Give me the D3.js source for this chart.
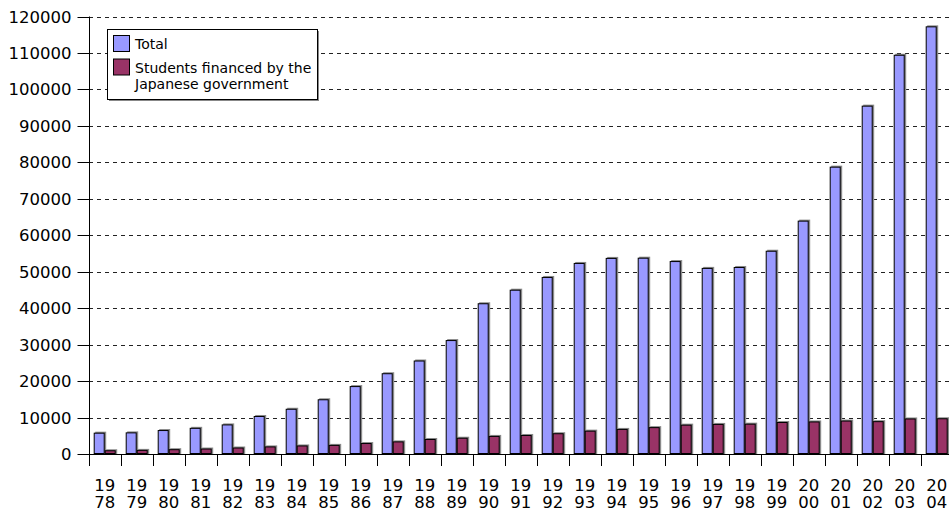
<!DOCTYPE html>
<html>
<head>
<meta charset="utf-8">
<script src="https://cdn.jsdelivr.net/npm/d3@7"></script>
<style>
  html, body { margin: 0; padding: 0; background: #fff; }
  svg { display: block; font-family: "DejaVu Sans", Verdana, sans-serif; }
</style>
</head>
<body>
<svg id="chart" width="949" height="515"></svg>
<script>
// Foreign students in Japan, 1978–2004
const years = ["1978","1979","1980","1981","1982","1983","1984","1985","1986","1987",
               "1988","1989","1990","1991","1992","1993","1994","1995","1996","1997",
               "1998","1999","2000","2001","2002","2003","2004"];
const totalStudents = [5849, 5933, 6572, 7179, 8116, 10428, 12410, 15009, 18631, 22154,
                       25643, 31251, 41347, 45066, 48561, 52405, 53787, 53847, 52921, 51047,
                       51298, 55755, 64011, 78812, 95550, 109508, 117302];
const govFinanced = [1030, 1130, 1320, 1500, 1780, 2082, 2345, 2502, 3009, 3458,
                     4118, 4465, 4961, 5219, 5699, 6408, 6880, 7371, 8051, 8250,
                     8323, 8774, 8930, 9173, 9009, 9746, 9804];
const seriesNames = ["Total", "Students financed by the Japanese government"];
const legendLines = [["Total"], ["Students financed by the", "Japanese government"]];
const seriesColors = ["#9999FF", "#993366"];
const yTicks = [0, 10000, 20000, 30000, 40000, 50000, 60000, 70000, 80000, 90000,
                100000, 110000, 120000];

const svg = d3.select("#chart");
const plotLeft = 89, plotTop = 16.5, plotBottom = 454;

const x0 = d3.scaleBand().domain(years).range([plotLeft - 0.3, plotLeft - 0.3 + years.length * 32]);
const x1 = d3.scaleBand().domain([0, 1]).range([5, 27]);
const y = d3.scaleLinear().domain([0, 120000]).range([plotBottom, plotTop]);

const rows = years.map((yr, i) => ({ year: yr, values: [totalStudents[i], govFinanced[i]] }));

// dashed horizontal gridlines
svg.append("g")
  .selectAll("line")
  .data(yTicks.filter(t => t > 0))
  .join("line")
  .attr("x1", plotLeft).attr("x2", 949)
  .attr("y1", d => Math.round(y(d)) + 0.5)
  .attr("y2", d => Math.round(y(d)) + 0.5)
  .attr("stroke", "#222")
  .attr("stroke-width", 1)
  .attr("stroke-dasharray", "4,4");

// bars with a soft shadow on the right
const groups = svg.append("g")
  .selectAll("g")
  .data(rows)
  .join("g")
  .attr("transform", d => `translate(${x0(d.year)},0)`);

groups.selectAll("rect.shadow")
  .data(d => d.values.map((v, k) => ({ v, k })))
  .join("rect")
  .attr("class", "shadow")
  .attr("x", d => x1(d.k) + 1.5)
  .attr("y", d => y(d.v) - 1)
  .attr("width", x1.bandwidth())
  .attr("height", d => y(0) - y(d.v) + 1)
  .attr("fill", "#8a8a8a");

groups.selectAll("rect.bar")
  .data(d => d.values.map((v, k) => ({ v, k })))
  .join("rect")
  .attr("class", "bar")
  .attr("x", d => x1(d.k) + 0.5)
  .attr("y", d => y(d.v) + 0.5)
  .attr("width", x1.bandwidth() - 1)
  .attr("height", d => Math.max(0, y(0) - y(d.v) - 1))
  .attr("fill", d => seriesColors[d.k])
  .attr("stroke", "#000")
  .attr("stroke-width", 1);

// y axis
const yAxis = d3.axisLeft(y).tickValues(yTicks).tickSize(12).tickPadding(6).tickFormat(d3.format("d"));
const gy = svg.append("g").attr("transform", `translate(${plotLeft + 0.5},0)`).call(yAxis);
gy.select(".domain").attr("d", `M0,${y(120000)}V${plotBottom + 12}`).attr("stroke", "#000");
gy.selectAll(".tick").attr("transform", d => `translate(0,${Math.round(y(d)) + 0.5})`);
gy.selectAll(".tick line").attr("stroke", "#000");
gy.selectAll(".tick text")
  .attr("font-family", "DejaVu Sans, Verdana, sans-serif")
  .attr("font-size", "16.5px")
  .attr("fill", "#000")
  .attr("dy", "0.35em");

// x axis baseline and category separators
const gx = svg.append("g");
gx.append("line")
  .attr("x1", plotLeft).attr("x2", 949)
  .attr("y1", Math.round(y(0)) + 0.5).attr("y2", Math.round(y(0)) + 0.5)
  .attr("stroke", "#000");
gx.selectAll("line.sep")
  .data(years)
  .join("line")
  .attr("class", "sep")
  .attr("x1", d => Math.round(x0(d)) + 0.5)
  .attr("x2", d => Math.round(x0(d)) + 0.5)
  .attr("y1", Math.round(y(0)))
  .attr("y2", Math.round(y(0)) + 12)
  .attr("stroke", "#000");

// two-line year labels
const labels = gx.selectAll("text.yr")
  .data(years)
  .join("text")
  .attr("class", "yr")
  .attr("text-anchor", "middle")
  .attr("font-size", "16.5px")
  .attr("fill", "#000");
labels.append("tspan")
  .attr("x", d => x0(d) + x0.bandwidth() / 2)
  .attr("y", 491)
  .text(d => d.slice(0, 2));
labels.append("tspan")
  .attr("x", d => x0(d) + x0.bandwidth() / 2)
  .attr("y", 508)
  .text(d => d.slice(2));

// legend
const lg = svg.append("g").attr("transform", "translate(107.5,29.5)");
lg.append("rect").attr("x", 1.5).attr("y", 1.5).attr("width", 210).attr("height", 70).attr("fill", "#888");
lg.append("rect").attr("width", 210).attr("height", 70).attr("fill", "#fff").attr("stroke", "#000");
const items = lg.selectAll("g.item")
  .data(seriesNames)
  .join("g")
  .attr("class", "item")
  .attr("transform", (d, i) => `translate(6,${6 + i * 23.5})`);
items.append("rect")
  .attr("width", 16).attr("height", 16)
  .attr("fill", (d, i) => seriesColors[i])
  .attr("stroke", "#000");
items.append("text")
  .attr("font-size", "14px")
  .attr("fill", "#000")
  .selectAll("tspan")
  .data((d, i) => legendLines[i])
  .join("tspan")
  .attr("x", 21.5)
  .attr("y", (d, j) => 13.5 + j * 16.7)
  .text(d => d);
</script>
</body>
</html>
